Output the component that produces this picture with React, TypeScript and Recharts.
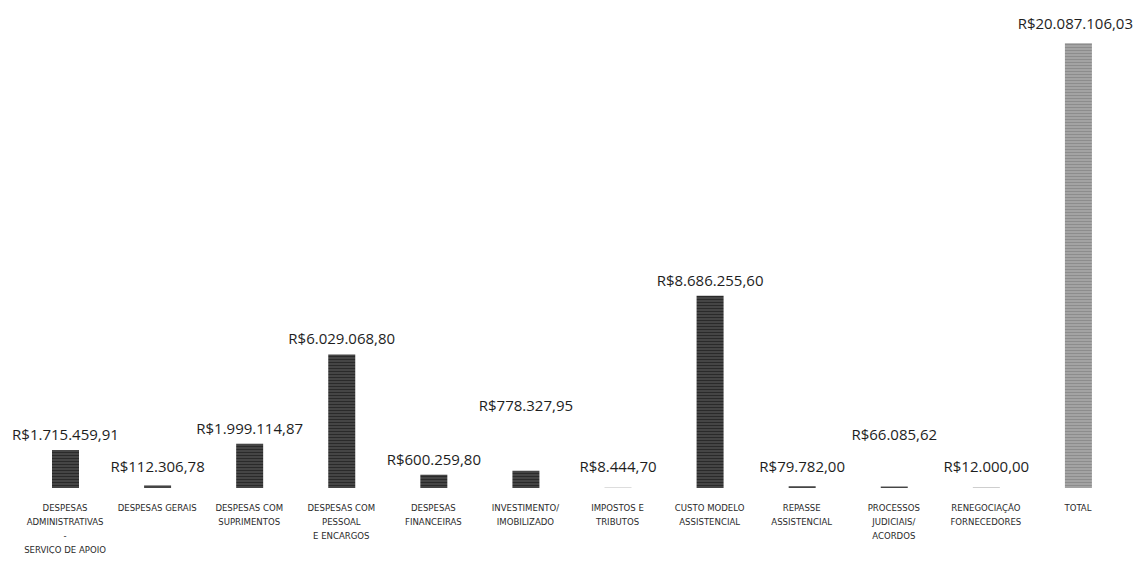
import { Bar, BarChart, Cell, LabelList, XAxis, YAxis } from "recharts";

const categories: string[][] = [
  ["DESPESAS", "ADMINISTRATIVAS", "-", "SERVIÇO DE APOIO"],
  ["DESPESAS GERAIS"],
  ["DESPESAS COM", "SUPRIMENTOS"],
  ["DESPESAS COM", "PESSOAL", "E ENCARGOS"],
  ["DESPESAS", "FINANCEIRAS"],
  ["INVESTIMENTO/", "IMOBILIZADO"],
  ["IMPOSTOS E", "TRIBUTOS"],
  ["CUSTO MODELO", "ASSISTENCIAL"],
  ["REPASSE", "ASSISTENCIAL"],
  ["PROCESSOS", "JUDICIAIS/", "ACORDOS"],
  ["RENEGOCIAÇÃO", "FORNECEDORES"],
  ["TOTAL"],
];

const values: number[] = [
  1715459.91, 112306.78, 1999114.87, 6029068.8, 600259.8, 778327.95, 8444.7,
  8686255.6, 79782.0, 66085.62, 12000.0, 20087106.03,
];

const valueLabels: string[] = [
  "R$1.715.459,91",
  "R$112.306,78",
  "R$1.999.114,87",
  "R$6.029.068,80",
  "R$600.259,80",
  "R$778.327,95",
  "R$8.444,70",
  "R$8.686.255,60",
  "R$79.782,00",
  "R$66.085,62",
  "R$12.000,00",
  "R$20.087.106,03",
];

// labels the original lifts out of the way of their neighbours (px above the usual spot)
const labelLift: Record<number, number> = { 5: 50, 9: 32, 11: 4 };

const W = 1126;
const H = 546;

const data = categories.map((lines, i) => ({
  key: String(i),
  lines,
  value: values[i],
  label: valueLabels[i],
}));

function CategoryTick(props: any) {
  const { x, y, payload } = props;
  const lines = data[payload.index]?.lines ?? [];
  return (
    <text
      x={x}
      y={y + 15}
      textAnchor="middle"
      fill="#2a2a2a"
      fontSize={9.5}
      fontFamily="'DejaVu Sans Condensed', 'Liberation Sans Narrow', sans-serif"
    >
      {lines.map((l: string, i: number) => (
        <tspan key={i} x={x} dy={i === 0 ? 0 : 14}>
          {l}
        </tspan>
      ))}
    </text>
  );
}

function ValueLabel(props: any) {
  const { x, y, width, height, index } = props;
  const bottom = y + height;
  const cy = Math.max(10, Math.min(y - 16, bottom - 22) - (labelLift[index] ?? 0));
  const text = data[index].label;
  const half = (text.length * 7.8) / 2;
  let cx = x + width / 2;
  let anchor: "middle" | "end" = "middle";
  if (cx + half > W - 1) {
    cx = W - 1;
    anchor = "end";
  }
  return (
    <text
      x={cx}
      y={cy}
      textAnchor={anchor}
      dominantBaseline="central"
      fill="#1e1e1e"
      fontSize={15}
      fontFamily="'Open Sans', sans-serif"
    >
      {text}
    </text>
  );
}

export default function App() {
  return (
    <div style={{ width: W, height: H, background: "#fff" }}>
      <BarChart
        width={W}
        height={H}
        data={data}
        margin={{ top: 15, right: 10, bottom: 0, left: 11 }}
        barCategoryGap="0%"
      >
        <defs>
          <pattern id="darkBar" width="4" height="3" patternUnits="userSpaceOnUse">
            <rect width="4" height="3" fill="#454545" />
            <rect width="4" height="1" fill="#2a2a2a" />
          </pattern>
          <pattern id="totalBar" width="4" height="3" patternUnits="userSpaceOnUse">
            <rect width="4" height="3" fill="#a3a3a3" />
            <rect width="4" height="1" fill="#8c8c8c" />
          </pattern>
        </defs>
        <XAxis
          dataKey="key"
          axisLine={false}
          tickLine={false}
          interval={0}
          height={66}
          tick={<CategoryTick />}
        />
        <YAxis hide domain={[0, 21000000]} />
        <Bar dataKey="value" barSize={27} isAnimationActive={false}>
          {data.map((d, i) => (
            <Cell
              key={d.key}
              fill={i === data.length - 1 ? "url(#totalBar)" : "url(#darkBar)"}
            />
          ))}
          <LabelList dataKey="label" content={<ValueLabel />} />
        </Bar>
      </BarChart>
    </div>
  );
}
